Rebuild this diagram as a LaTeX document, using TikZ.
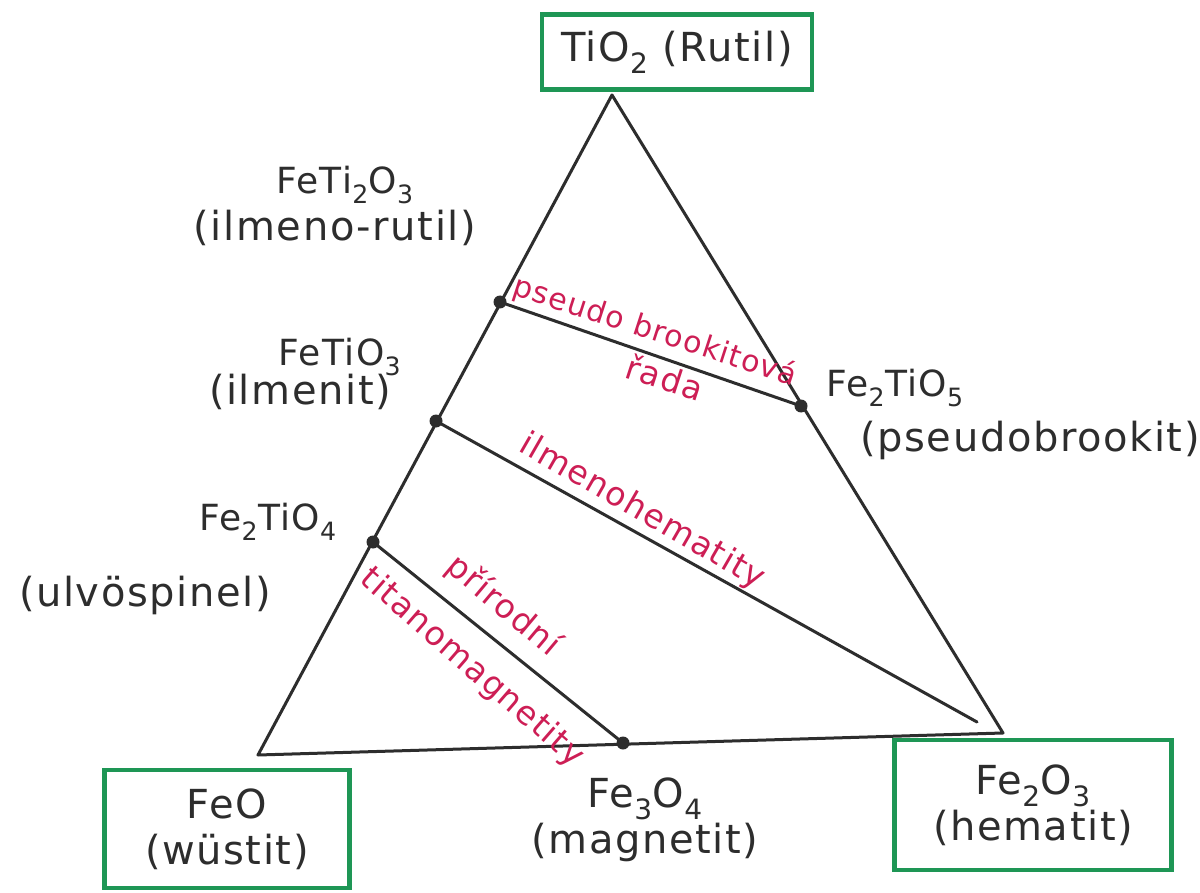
\documentclass[tikz,border=0pt]{standalone}
\usepackage{fontspec}
\setmainfont{DejaVu Sans}[LetterSpace=4]
\definecolor{ink}{RGB}{45,45,45}
\definecolor{boxgreen}{RGB}{30,150,85}
\definecolor{redink}{RGB}{205,30,85}
\begin{document}
\begin{tikzpicture}[x=1pt,y=-1pt,
  side/.style={draw=ink,line width=3pt,line cap=round,line join=round},
  tie/.style={draw=ink,line width=3pt,line cap=round},
  dot/.style={circle,fill=ink,inner sep=0pt,minimum size=13pt},
  mineral/.style={draw=boxgreen,line width=4.5pt,rectangle,inner sep=0pt,align=center,text=ink,font=\fontsize{40}{46}\selectfont},
  lab/.style={text=ink,font=\fontsize{40}{46}\selectfont,inner sep=0pt,align=center},
  form/.style={text=ink,font=\fontsize{36}{40}\selectfont,inner sep=0pt},
  series/.style={text=redink,font=\fontsize{33}{36}\selectfont,inner sep=0pt}]
\useasboundingbox (0,0) rectangle (1200,893);
\fill[white] (0,0) rectangle (1200,893);
% triangle corners
\coordinate (T) at (612,95);
\coordinate (L) at (258,755);
\coordinate (R) at (1003,733);
\draw[side] (T) -- (L) -- (R) -- cycle;
% tie-line end points
\node[dot] (p1) at (500,302) {};
\node[dot] (p2) at (436,421) {};
\node[dot] (p3) at (373,542) {};
\node[dot] (q1) at (801,406) {};
\node[dot] (q3) at (623,743) {};
\coordinate (q2) at (977,722);
\draw[tie] (p1.center) -- (q1.center);
\draw[tie] (p2.center) -- (q2);
\draw[tie] (p3.center) -- (q3.center);
% end members in boxes
\node[mineral,minimum width=270pt,minimum height=75pt] (rutil) at (677,52) {TiO\textsubscript{2} (Rutil)};
\node[mineral,minimum width=245pt,minimum height=118pt] (wustit) at (227,829) {FeO\\(wüstit)};
\node[mineral,minimum width=277pt,minimum height=130pt] (hematit) at (1033,805) {Fe\textsubscript{2}O\textsubscript{3}\\(hematit)};
% other labels
\node[lab] (magnetit) at (645,820) {Fe\textsubscript{3}O\textsubscript{4}\\(magnetit)};
\node[form] (f1) at (345,185) {FeTi\textsubscript{2}O\textsubscript{3}};
\node[lab] (n1) at (335,228) {(ilmeno-rutil)};
\node[form] (f2) at (340,357) {FeTiO\textsubscript{3}};
\node[lab] (n2) at (300,392) {(ilmenit)};
\node[form] (f3) at (268,522) {Fe\textsubscript{2}TiO\textsubscript{4}};
\node[lab] (n3) at (145,595) {(ulvöspinel)};
\node[form] (f4) at (895,388) {Fe\textsubscript{2}TiO\textsubscript{5}};
\node[lab] (n4) at (1030,440) {(pseudobrookit)};
% series names
\node[series,font=\fontsize{30}{34}\selectfont,rotate=-18] (s1a) at (655,332) {pseudo brookitová};
\node[series,rotate=-18] (s1b) at (665,377) {řada};
\node[series,rotate=-30] (s2) at (642,512) {ilmenohematity};
\node[series,rotate=-40] (s3a) at (503,606) {přírodní};
\node[series,rotate=-41] (s3b) at (472,668) {titanomagnetity};
\end{tikzpicture}
\end{document}
